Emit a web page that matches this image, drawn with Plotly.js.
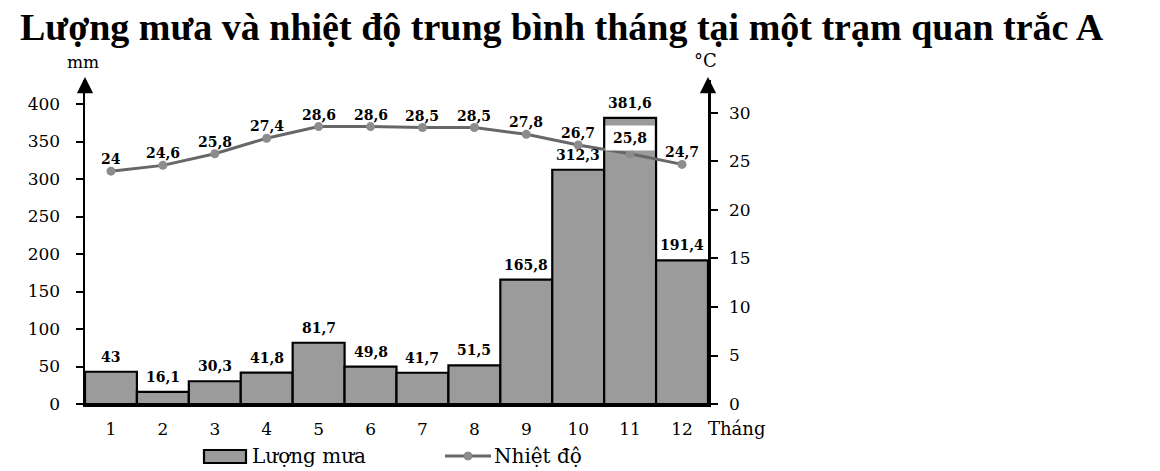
<!DOCTYPE html>
<html>
<head>
<meta charset="utf-8">
<script src="https://cdn.plot.ly/plotly-3.0.1.min.js"></script>
<style>
  html, body { margin: 0; padding: 0; background: #fff; }
  #chart { width: 1160px; height: 471px; }
</style>
</head>
<body>
<div id="chart"></div>
<script>
// Monthly rainfall (mm) and mean temperature (°C) at station A
const months = [1, 2, 3, 4, 5, 6, 7, 8, 9, 10, 11, 12];
const rainfall = [43, 16.1, 30.3, 41.8, 81.7, 49.8, 41.7, 51.5, 165.8, 312.3, 381.6, 191.4];
const temperature = [24, 24.6, 25.8, 27.4, 28.6, 28.6, 28.5, 28.5, 27.8, 26.7, 25.8, 24.7];
const seriesNames = ['Lượng mưa', 'Nhiệt độ'];

const titleFont = '"Liberation Serif", "Times New Roman", serif';
const serif = '"DejaVu Serif", "Liberation Serif", serif';
const fmt = v => String(v).replace('.', ',');

const barColor = '#9b9b9b';
const lineColor = '#676767';
const markerColor = '#8c8c8c';

const bars = {
  type: 'bar',
  name: seriesNames[0],
  x: months,
  y: rainfall,
  marker: { color: barColor, line: { color: '#000', width: 2.2 } },
  hoverinfo: 'skip'
};

const line = {
  type: 'scatter',
  mode: 'lines+markers',
  name: seriesNames[1],
  x: months,
  y: temperature,
  yaxis: 'y2',
  line: { color: lineColor, width: 3 },
  marker: { color: markerColor, size: 9 },
  hoverinfo: 'skip'
};

const annotations = [];
// rainfall value labels above bars
rainfall.forEach((v, i) => {
  annotations.push({
    x: months[i], y: v, xref: 'x', yref: 'y',
    text: '<b>' + fmt(v) + '</b>', showarrow: false,
    yanchor: 'bottom', yshift: 5,
    font: { family: serif, size: 14, color: '#000' }
  });
});
// temperature value labels above markers; the one inside the tall bar gets a white box
temperature.forEach((v, i) => {
  const boxed = months[i] === 11;
  const a = {
    x: months[i], y: v, xref: 'x', yref: 'y2',
    text: '<b>' + fmt(v) + '</b>', showarrow: false,
    yanchor: 'bottom', yshift: boxed ? 3 : 2,
    font: { family: serif, size: 14, color: '#000' }
  };
  if (boxed) {
    a.bgcolor = '#fff';
    a.width = 46;
    a.height = 22;
  }
  annotations.push(a);
});
// axis unit labels, arrowheads, x-axis caption
annotations.push(
  { xref: 'paper', yref: 'paper', x: 0, y: 1, yshift: 18, xshift: -2, text: 'mm', showarrow: false,
    xanchor: 'center', yanchor: 'middle', font: { family: serif, size: 17, color: '#000' } },
  { xref: 'paper', yref: 'paper', x: 1, y: 1, yshift: 20, xshift: -3, text: '°C', showarrow: false,
    xanchor: 'center', yanchor: 'middle', font: { family: serif, size: 18, color: '#000' } },
  { xref: 'paper', yref: 'paper', x: 0, y: 1, yshift: 3, ax: 0, ay: 12, text: '',
    showarrow: true, arrowhead: 2, arrowsize: 1.3, arrowwidth: 2.5, arrowcolor: '#000' },
  { xref: 'paper', yref: 'paper', x: 1, y: 1, yshift: 3, ax: 0, ay: 12, text: '',
    showarrow: true, arrowhead: 2, arrowsize: 1.3, arrowwidth: 2.5, arrowcolor: '#000' },
  { xref: 'paper', yref: 'paper', x: 1, y: 0, xshift: -2, yshift: -24, text: 'Tháng', showarrow: false,
    xanchor: 'left', yanchor: 'middle', font: { family: serif, size: 18, color: '#000' } }
);

// legend drawn below the plot: wide bar swatch and line-with-marker swatch
const plotL = 85, plotR = 708, plotT = 80, plotB = 404;
const px = x => (x - plotL) / (plotR - plotL);
const py = y => (plotB - y) / (plotB - plotT);
const shapes = [
  { type: 'rect', xref: 'paper', yref: 'paper',
    x0: px(204), x1: px(246), y0: py(463), y1: py(450),
    fillcolor: barColor, line: { color: '#000', width: 2.2 } },
  { type: 'line', xref: 'paper', yref: 'paper',
    x0: px(445), x1: px(491), y0: py(456), y1: py(456),
    line: { color: lineColor, width: 3 } },
  { type: 'circle', xref: 'paper', yref: 'paper',
    x0: px(464), x1: px(472), y0: py(460), y1: py(452),
    fillcolor: markerColor, line: { color: markerColor, width: 1 } }
];
annotations.push(
  { xref: 'paper', yref: 'paper', x: px(250), y: py(456), xanchor: 'left', yanchor: 'middle',
    text: seriesNames[0], showarrow: false, font: { family: serif, size: 20, color: '#000' } },
  { xref: 'paper', yref: 'paper', x: px(492), y: py(456), xanchor: 'left', yanchor: 'middle',
    text: seriesNames[1], showarrow: false, font: { family: serif, size: 20, color: '#000' } }
);

const axisCommon = {
  showline: true, linecolor: '#000', linewidth: 2.5,
  showgrid: false, zeroline: false,
  tickfont: { family: serif, size: 17, color: '#000' }
};

const layout = {
  width: 1160,
  height: 471,
  paper_bgcolor: '#fff',
  plot_bgcolor: '#fff',
  margin: { l: plotL, r: 1160 - plotR, t: plotT, b: 471 - plotB },
  title: {
    text: '<b>Lượng mưa và nhiệt độ trung bình tháng tại một trạm quan trắc A</b>',
    font: { family: titleFont, size: 38, color: '#000' },
    x: 20 / 1160, xanchor: 'left', xref: 'container',
    y: 1 - 27 / 471, yanchor: 'middle', yref: 'container'
  },
  bargap: 0,
  showlegend: false,
  xaxis: Object.assign({}, axisCommon, {
    tickmode: 'array', tickvals: months, ticktext: months.map(String),
    range: [0.5, 12.5], ticks: '', ticklabelstandoff: 8
  }),
  yaxis: Object.assign({}, axisCommon, {
    range: [0, 432], tickvals: [0, 50, 100, 150, 200, 250, 300, 350, 400],
    ticks: 'outside', ticklen: 7, tickwidth: 2, tickcolor: '#000', ticklabelstandoff: 12
  }),
  yaxis2: Object.assign({}, axisCommon, {
    overlaying: 'y', side: 'right',
    range: [0, 33.4], tickvals: [0, 5, 10, 15, 20, 25, 30],
    ticks: 'outside', ticklen: 7, tickwidth: 2, tickcolor: '#000', ticklabelstandoff: 8
  }),
  shapes: shapes,
  annotations: annotations
};

Plotly.newPlot('chart', [bars, line], layout, { displayModeBar: false, staticPlot: true });
</script>
</body>
</html>
